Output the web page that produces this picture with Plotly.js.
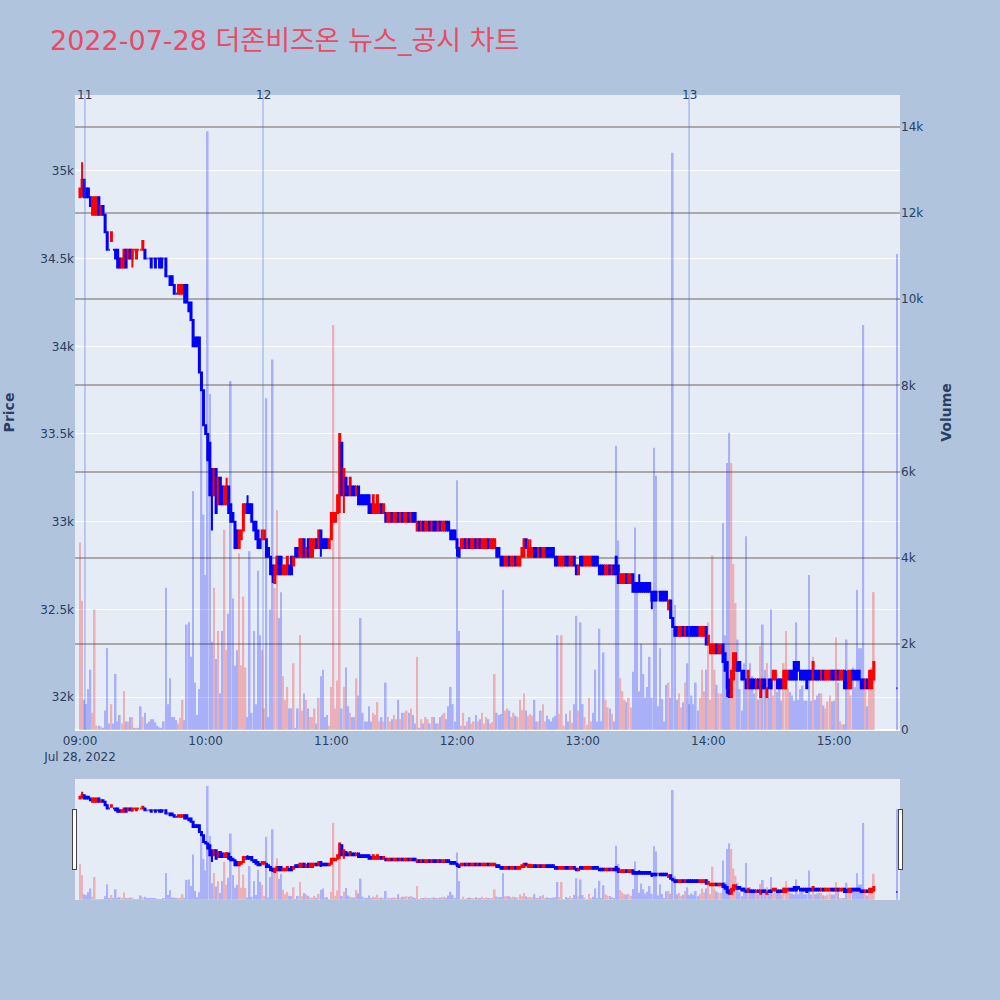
<!DOCTYPE html>
<html><head><meta charset="utf-8">
<script src="https://cdn.plot.ly/plotly-3.0.1.min.js"></script>
<style>html,body{margin:0;padding:0;background:#B0C4DE}</style>
</head><body>
<div id="chart" style="width:1000px;height:1000px"></div>
<script>
// ---- data (1-minute bars, 09:00 .. 15:19, then the 15:30 closing auction) ----
const tradeDate = '2022-07-28';
const closingAuctionTime = '2022-07-28 15:30:00';
const chartTitle = '2022-07-28 더존비즈온 뉴스_공시 차트';

const openPrices = [
34850,34900,34950,34900,34900,34850,34750,34750,34750,34850,
34750,34800,34750,34650,34550,34600,34550,34550,34550,34500,
34450,34450,34550,34500,34550,34500,34550,34500,34550,34550,
34550,34550,34500,34500,34500,34500,34500,34500,34500,34500,
34500,34500,34400,34400,34400,34350,34300,34300,34300,34300,
34350,34350,34250,34250,34150,34050,34050,34050,33850,33750,
33550,33500,33450,33300,33150,33300,33100,33250,33200,33100,
33100,33200,33100,33050,33000,32950,32850,32900,32950,33050,
33100,33100,33100,33000,33000,32950,32900,32900,32900,32900,
32850,32800,32750,32650,32700,32800,32800,32700,32700,32700,
32750,32800,32750,32850,32850,32800,32800,32900,32800,32900,
32800,32800,32850,32900,32850,32950,32900,32900,32900,32850,
32900,33000,33000,33050,33150,33450,33150,33250,33200,33150,
33200,33200,33150,33200,33150,33150,33150,33150,33150,33100,
33050,33050,33050,33050,33100,33050,33050,33000,33000,33050,
33000,33000,33050,33000,33050,33000,33000,33050,33000,33050,
33050,32950,33000,32950,33000,32950,32950,33000,32950,33000,
33000,32950,33000,32950,32950,33000,33000,32950,32950,32950,
32900,32850,32850,32850,32900,32850,32900,32850,32850,32900,
32850,32900,32850,32850,32850,32900,32850,32850,32850,32850,
32850,32800,32800,32750,32750,32800,32750,32750,32800,32750,
32750,32800,32800,32900,32800,32800,32800,32850,32850,32800,
32850,32800,32800,32850,32850,32850,32850,32800,32800,32750,
32750,32750,32800,32800,32750,32750,32800,32750,32700,32800,
32800,32750,32750,32750,32750,32800,32800,32800,32750,32750,
32750,32700,32700,32750,32700,32750,32800,32750,32650,32650,
32650,32700,32650,32650,32700,32650,32650,32650,32650,32650,
32650,32650,32650,32600,32600,32600,32600,32600,32600,32600,
32600,32500,32550,32450,32400,32400,32350,32350,32400,32350,
32400,32400,32400,32400,32400,32400,32350,32350,32350,32400,
32300,32250,32250,32250,32300,32250,32250,32300,32250,32200,
32100,32000,32100,32150,32200,32200,32150,32150,32100,32050,
32100,32100,32100,32050,32100,32000,32100,32100,32000,32100,
32100,32100,32100,32100,32100,32100,32050,32050,32100,32150,
32150,32200,32200,32200,32150,32150,32150,32150,32150,32150,
32100,32150,32150,32150,32100,32150,32100,32100,32100,32150,
32150,32100,32150,32100,32100,32150,32100,32050,32050,32150,
32150,32150,32150,32100,32100,32050,32100,32050,32050,32100,
32050];

const highPrices = [
34900,35050,34950,34900,34900,34850,34850,34850,34850,34850,
34800,34800,34750,34650,34550,34650,34550,34550,34550,34500,
34500,34550,34550,34550,34550,34550,34550,34550,34550,34550,
34600,34550,34500,34500,34500,34500,34500,34500,34500,34500,
34500,34500,34400,34400,34400,34350,34300,34350,34350,34350,
34350,34350,34250,34250,34150,34050,34050,34050,33850,33750,
33550,33500,33450,33300,33300,33300,33250,33250,33200,33200,
33250,33200,33100,33050,33000,32950,32950,32950,33100,33100,
33150,33100,33100,33000,33000,32950,32900,32950,32950,32900,
32850,32800,32750,32750,32800,32800,32800,32750,32750,32800,
32750,32800,32800,32850,32850,32900,32900,32900,32850,32900,
32900,32900,32900,32900,32950,32950,32900,32900,32900,32900,
33050,33050,33050,33150,33500,33450,33300,33250,33200,33250,
33200,33200,33200,33200,33150,33150,33150,33150,33150,33100,
33150,33100,33150,33100,33100,33100,33050,33050,33050,33050,
33050,33050,33050,33050,33050,33050,33050,33050,33050,33050,
33050,33000,33000,33000,33000,33000,33000,33000,33000,33000,
33000,33000,33000,33000,33000,33000,33000,32950,32950,32950,
32900,32850,32900,32900,32900,32900,32900,32900,32900,32900,
32900,32900,32900,32900,32900,32900,32900,32900,32900,32850,
32850,32800,32800,32800,32800,32800,32800,32800,32800,32800,
32800,32850,32900,32900,32900,32900,32850,32850,32850,32850,
32850,32850,32850,32850,32850,32850,32850,32800,32800,32800,
32800,32800,32800,32800,32800,32800,32800,32750,32750,32800,
32800,32800,32800,32800,32800,32800,32800,32800,32750,32750,
32750,32750,32750,32750,32750,32750,32800,32750,32700,32700,
32700,32700,32700,32700,32700,32650,32650,32700,32650,32650,
32650,32650,32650,32600,32600,32600,32600,32600,32600,32600,
32600,32550,32550,32450,32400,32400,32400,32400,32400,32400,
32400,32400,32400,32400,32400,32400,32400,32400,32400,32400,
32350,32300,32300,32300,32300,32300,32300,32300,32250,32200,
32100,32150,32250,32250,32200,32200,32150,32150,32100,32150,
32100,32100,32100,32100,32100,32100,32100,32100,32050,32100,
32100,32150,32150,32100,32100,32100,32150,32150,32150,32150,
32150,32200,32200,32200,32150,32150,32150,32150,32150,32150,
32200,32150,32150,32150,32150,32150,32150,32150,32150,32150,
32150,32150,32150,32150,32150,32150,32150,32150,32150,32150,
32150,32150,32150,32100,32100,32100,32100,32150,32150,32200,
32050];

const lowPrices = [
34850,34850,34850,34850,34850,34800,34750,34750,34750,34750,
34750,34750,34650,34550,34550,34600,34550,34500,34450,34450,
34450,34450,34450,34500,34500,34450,34550,34500,34550,34550,
34550,34500,34500,34500,34450,34500,34450,34500,34450,34450,
34500,34400,34400,34350,34350,34300,34300,34300,34300,34300,
34250,34250,34200,34150,34000,34000,34000,33850,33750,33550,
33500,33350,33150,32950,33150,33050,33100,33100,33100,33100,
33100,33050,33000,33000,32850,32850,32850,32900,32950,33050,
33050,33050,33000,32950,32900,32850,32850,32900,32900,32800,
32800,32700,32650,32650,32700,32700,32700,32700,32700,32700,
32700,32700,32750,32800,32800,32800,32800,32800,32800,32800,
32800,32800,32850,32850,32850,32800,32850,32850,32850,32850,
32900,33000,33000,33050,33050,33150,33050,33150,33150,33150,
33150,33150,33150,33100,33100,33100,33100,33100,33050,33050,
33050,33050,33050,33050,33050,33050,33000,33000,33000,33000,
33000,33000,33000,33000,33000,33000,33000,33000,33000,33000,
33000,32950,32950,32950,32950,32950,32950,32950,32950,32950,
32950,32950,32950,32950,32950,32950,32950,32900,32900,32900,
32800,32800,32850,32850,32850,32850,32850,32850,32850,32850,
32850,32850,32850,32850,32850,32850,32850,32850,32850,32800,
32800,32750,32750,32750,32750,32750,32750,32750,32750,32750,
32750,32800,32800,32850,32800,32800,32800,32800,32800,32800,
32800,32800,32800,32800,32800,32800,32800,32750,32750,32750,
32750,32750,32750,32750,32750,32750,32750,32700,32700,32750,
32750,32750,32750,32750,32750,32750,32750,32750,32700,32700,
32700,32700,32700,32700,32700,32700,32700,32650,32650,32650,
32650,32650,32650,32650,32600,32600,32600,32600,32600,32600,
32600,32600,32600,32500,32550,32550,32600,32550,32550,32550,
32550,32500,32450,32400,32350,32350,32350,32350,32350,32350,
32350,32350,32350,32350,32350,32350,32350,32350,32350,32300,
32300,32250,32250,32250,32250,32250,32250,32200,32150,32000,
32000,32000,32100,32150,32150,32150,32100,32100,32050,32050,
32050,32050,32050,32050,32050,32000,32050,32050,32000,32050,
32050,32100,32100,32050,32050,32050,32050,32050,32100,32100,
32100,32100,32100,32150,32100,32100,32100,32050,32100,32100,
32100,32100,32100,32100,32100,32100,32100,32100,32100,32100,
32100,32100,32100,32100,32100,32050,32050,32050,32050,32100,
32100,32100,32100,32050,32050,32050,32050,32050,32050,32100,
32050];

const closePrices = [
34900,34950,34850,34850,34850,34800,34850,34850,34850,34750,
34800,34750,34650,34550,34550,34650,34550,34500,34450,34450,
34500,34550,34450,34550,34500,34550,34550,34550,34550,34550,
34600,34500,34500,34500,34450,34500,34450,34500,34450,34450,
34500,34400,34400,34350,34350,34300,34300,34350,34350,34350,
34250,34250,34200,34150,34000,34000,34000,33850,33750,33550,
33500,33350,33150,33150,33300,33050,33250,33100,33100,33200,
33200,33050,33000,33000,32850,32850,32950,32950,33100,33100,
33050,33050,33000,32950,32900,32850,32850,32950,32950,32800,
32800,32700,32700,32750,32800,32700,32700,32750,32750,32800,
32700,32700,32800,32800,32800,32900,32900,32800,32850,32800,
32900,32900,32900,32850,32950,32850,32850,32850,32850,32900,
33050,33050,33050,33150,33500,33150,33300,33150,33150,33250,
33150,33150,33200,33100,33100,33100,33100,33100,33050,33050,
33150,33100,33150,33100,33050,33100,33000,33050,33050,33000,
33050,33050,33000,33050,33000,33050,33050,33000,33050,33000,
33000,33000,32950,33000,32950,33000,33000,32950,33000,32950,
32950,33000,32950,33000,33000,32950,32950,32900,32900,32900,
32850,32800,32900,32900,32850,32900,32850,32900,32900,32850,
32900,32850,32900,32900,32900,32850,32900,32900,32900,32800,
32800,32750,32750,32800,32800,32750,32800,32800,32750,32800,
32800,32850,32900,32850,32850,32850,32850,32800,32800,32850,
32800,32850,32850,32800,32800,32800,32800,32750,32750,32800,
32800,32800,32750,32750,32800,32800,32750,32700,32750,32750,
32750,32800,32800,32800,32800,32750,32750,32750,32700,32700,
32700,32750,32750,32700,32750,32700,32700,32650,32700,32700,
32700,32650,32700,32700,32600,32600,32600,32600,32600,32600,
32600,32600,32600,32550,32550,32550,32600,32550,32550,32550,
32550,32550,32450,32400,32350,32350,32400,32400,32350,32400,
32350,32350,32350,32350,32350,32350,32400,32400,32400,32300,
32350,32300,32300,32300,32250,32300,32300,32200,32150,32050,
32000,32150,32250,32250,32150,32150,32100,32100,32050,32150,
32050,32050,32050,32100,32050,32100,32050,32050,32050,32050,
32050,32150,32150,32050,32050,32050,32150,32150,32150,32100,
32100,32100,32100,32150,32100,32100,32100,32050,32100,32100,
32200,32100,32100,32100,32150,32100,32150,32150,32150,32100,
32100,32150,32100,32150,32150,32050,32050,32150,32150,32100,
32100,32100,32100,32050,32050,32100,32050,32150,32150,32200,
32050];

const volumes = [
4350,3000,700,600,950,1400,400,2800,100,100,
80,50,450,1900,150,600,150,1300,200,350,
150,900,200,200,300,300,50,30,50,550,
300,400,150,200,250,250,180,100,60,40,
200,3300,600,1200,300,300,230,150,280,700,
230,2450,2500,1700,5550,1100,350,950,7950,5000,
3600,13900,7800,2050,3300,1650,2300,850,2300,4650,
1850,2700,8100,3050,1500,1850,4100,1500,3100,1450,
300,4150,400,2300,600,3700,2200,1850,500,7700,
300,2800,8600,3300,5100,2600,3200,1250,700,1000,
500,500,1550,50,500,2200,450,850,700,500,
300,300,500,150,750,1250,1400,300,350,100,
1000,9400,500,1150,6850,500,1000,1450,550,400,
300,300,1200,800,2600,400,200,200,550,200,
400,350,650,200,300,200,1100,300,200,250,
350,250,700,250,400,400,450,400,500,350,
150,1700,50,250,150,300,250,150,300,300,
150,150,300,350,400,250,550,1000,600,200,
5800,2300,100,400,100,200,300,150,200,350,
200,250,400,150,300,250,150,180,1300,400,
350,370,3250,450,500,450,300,400,330,300,
700,470,850,450,330,370,330,700,200,200,
450,600,200,330,250,200,290,330,2200,370,
2200,100,380,200,450,170,600,2650,450,2500,
600,300,120,750,200,400,1400,200,2350,200,
1800,700,530,500,380,200,6600,4400,1200,900,
700,650,750,520,1350,4700,3200,900,2000,1300,
750,1000,1700,750,6550,5900,550,1900,720,200,
1050,1100,750,13400,2900,700,850,520,640,1100,
1550,600,800,600,1100,450,750,1400,900,1400,
2500,700,4050,1400,1050,850,850,4800,2200,6200,
6900,6200,3850,2950,2100,950,450,1550,4500,1100,
1550,1250,850,950,700,1950,2450,1400,1550,750,
2800,800,1370,880,1200,680,1550,2300,950,880,
800,680,2500,700,950,1030,680,680,3600,680,
1700,700,800,850,850,570,500,660,800,660,
680,2150,1100,200,130,130,2100,950,800,1450,
1000,3250,1900,1900,9400,950,550,950,1450,3200,
11050];

const newsTimes = ['2022-07-28 09:02:23', '2022-07-28 10:27:23', '2022-07-28 13:50:47'];
const newsLabels = ['11', '12', '13'];

// ---- timestamps: one per regular-session minute, plus the closing auction ----
function pad(n){ return (n < 10 ? '0' : '') + n; }
const times = [];
for (let i = 0; i < openPrices.length - 1; i++) {
  const h = 9 + Math.floor(i / 60), m = i % 60;
  times.push(tradeDate + ' ' + pad(h) + ':' + pad(m) + ':00');
}
times.push(closingAuctionTime);

const volColors = closePrices.map((c, i) => c > openPrices[i] ? 'red' : 'blue');

const candle = {
  type: 'candlestick', x: times,
  open: openPrices, high: highPrices, low: lowPrices, close: closePrices,
  increasing: {line: {color: 'red'}, fillcolor: 'red'},
  decreasing: {line: {color: 'blue'}, fillcolor: 'blue'},
  name: 'Price', showlegend: false, xaxis: 'x', yaxis: 'y'
};
const vol = {
  type: 'bar', x: times, y: volumes,
  marker: {color: volColors}, opacity: 0.25,
  name: 'Volume', showlegend: false, xaxis: 'x', yaxis: 'y2'
};

const xRange = ['2022-07-28 08:57:37', '2022-07-28 15:31:30'];

const layout = {
  width: 1000, height: 1000,
  paper_bgcolor: '#B0C4DE', plot_bgcolor: '#E5ECF6',
  font: {family: '"DejaVu Sans", verdana, "Noto Sans CJK KR", sans-serif', color: '#2a3f5f', size: 12},
  margin: {l: 75, r: 100, t: 95, b: 100},
  showlegend: false,
  title: {text: chartTitle, x: 0.05, xanchor: 'left', xref: 'container',
          y: 0.959, yanchor: 'middle', yref: 'container',
          font: {size: 27, color: '#EB4A64'}},
  xaxis: {type: 'date', range: xRange, showgrid: false, linecolor: 'white', zeroline: false,
          ticks: '', automargin: false,
          rangeslider: {visible: true, thickness: 0.15, bgcolor: '#E5ECF6', range: xRange}},
  yaxis: {title: {text: '<b>Price</b>', font: {size: 14}, standoff: 22},
          range: [31812, 35433], gridcolor: 'white', gridwidth: 1, zeroline: false,
          automargin: false, ticks: ''},
  yaxis2: {title: {text: '<b>Volume</b>', font: {size: 14}, standoff: 18},
           overlaying: 'y', side: 'right', range: [0, 14740], dtick: 2000,
           showgrid: true, gridcolor: '#A9A9A9', gridwidth: 2,
           zeroline: true, zerolinecolor: 'white', zerolinewidth: 2,
           automargin: false, ticks: ''},
  shapes: newsTimes.map(t => ({type: 'line', xref: 'x', yref: 'paper', x0: t, x1: t, y0: 0, y1: 1,
                               line: {color: 'rgba(65,105,225,0.55)', width: 1}})),
  annotations: newsTimes.map((t, i) => ({x: t, y: 1, xref: 'x', yref: 'paper', text: newsLabels[i],
                                         xanchor: 'center', yanchor: 'middle',
                                         showarrow: false, font: {size: 12, color: '#2a3f5f'}}))
};

Plotly.newPlot('chart', [candle, vol], layout, {displayModeBar: false, responsive: false});
</script>
</body></html>
